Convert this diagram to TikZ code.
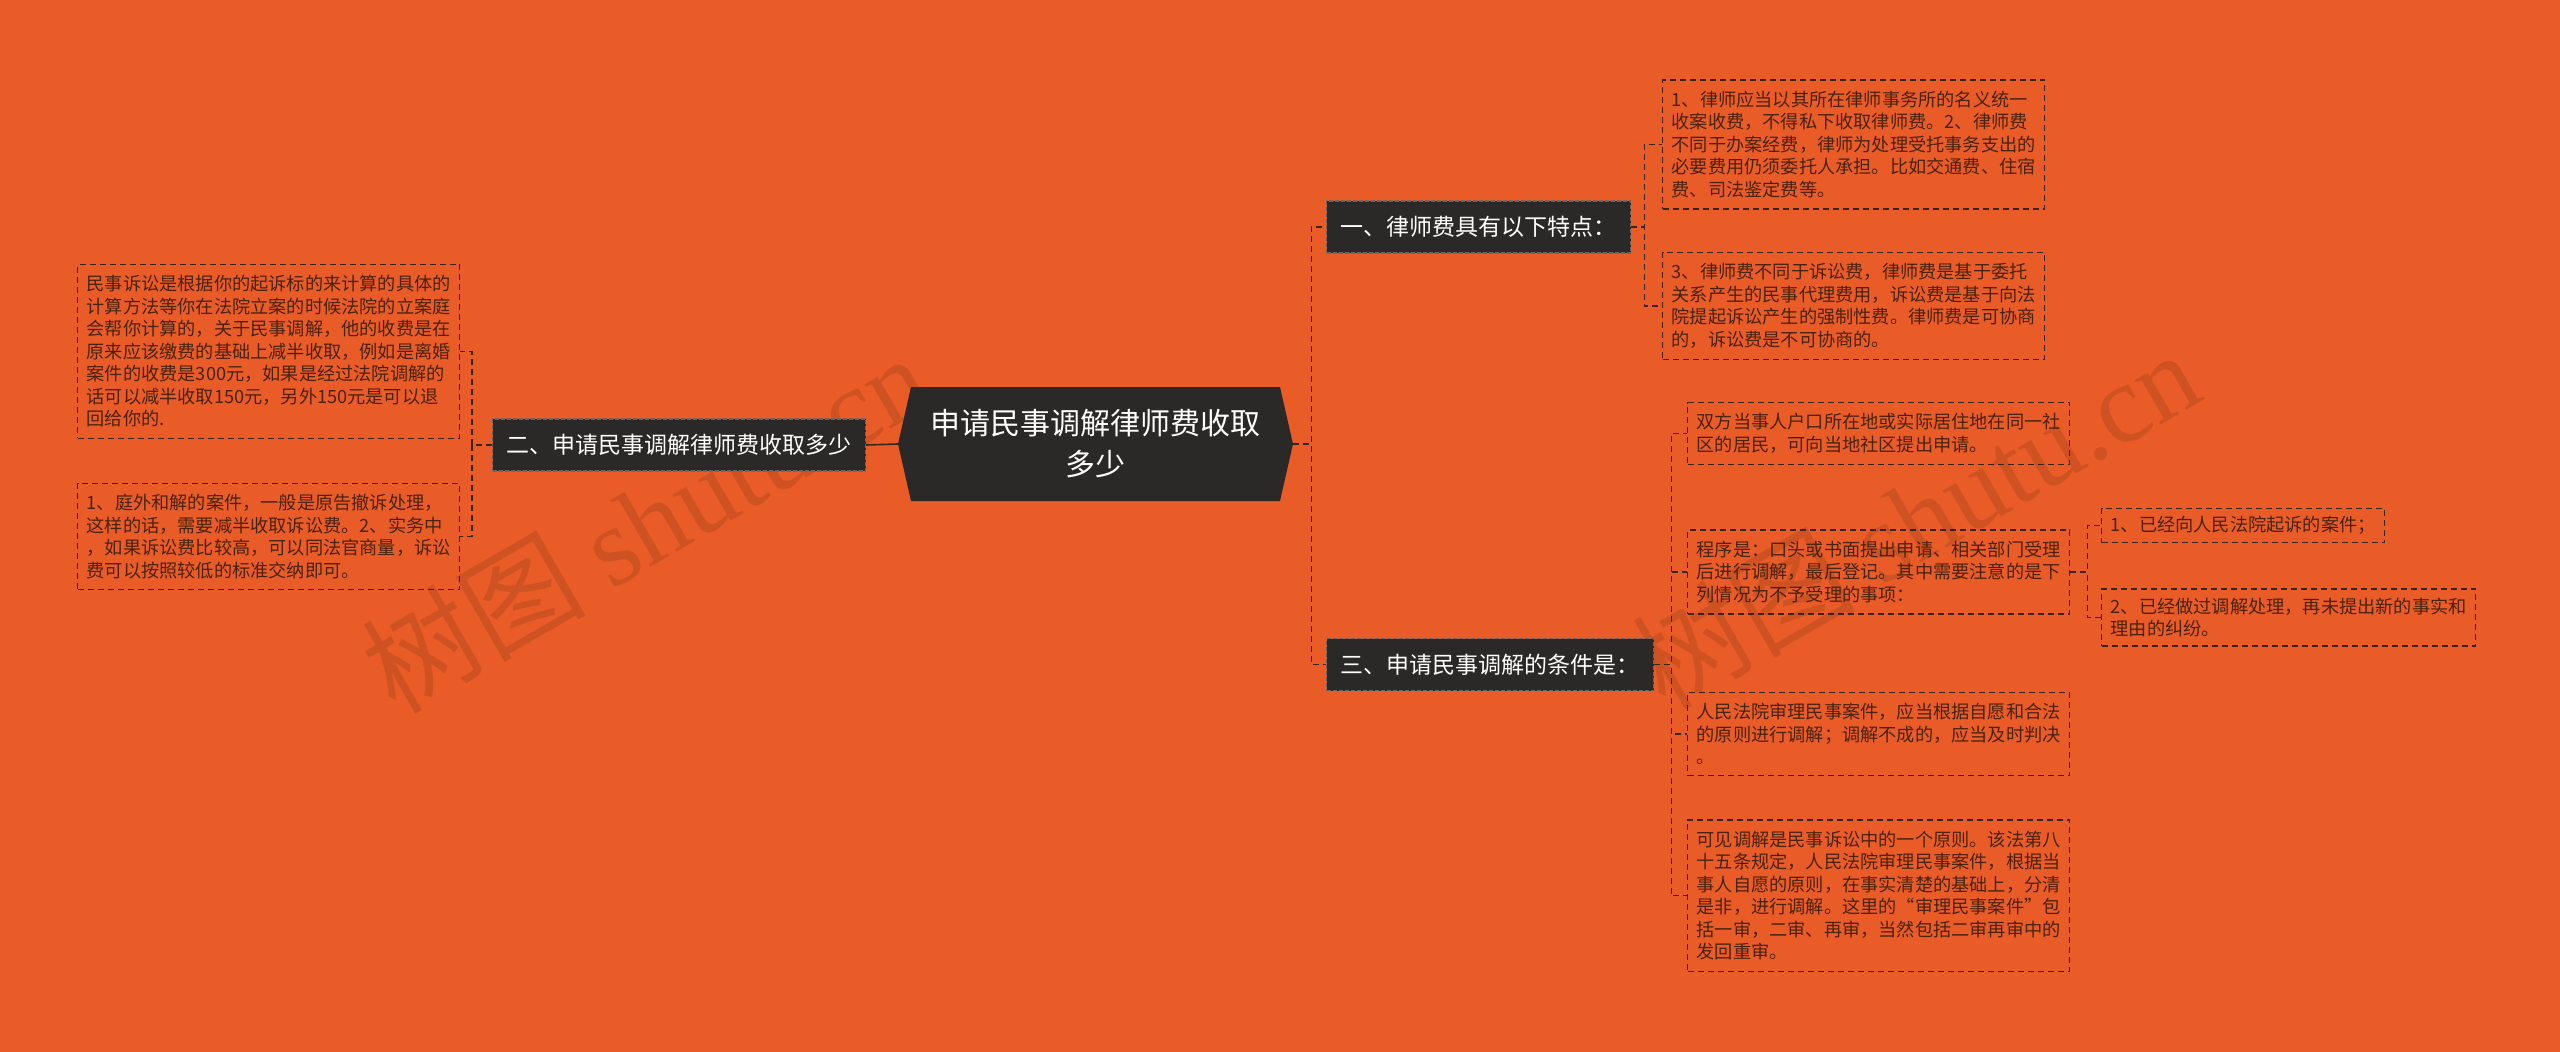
\documentclass[tikz,border=0pt]{standalone}
\usepackage{fontspec}
\setmainfont{Noto Sans CJK SC}
\newfontfamily\wmserif{Liberation Serif}
\definecolor{bg}{HTML}{EA5C27}
\definecolor{darkbox}{HTML}{2B2927}
\definecolor{lncol}{HTML}{3A2418}
\definecolor{leaftext}{HTML}{4A2210}
\definecolor{wm}{HTML}{8A3A1A}
\tikzset{
  conn/.style={draw=lncol, line width=1.4pt, dash pattern=on 6pt off 4pt},
  solidconn/.style={draw=lncol, line width=1.6pt},
  leaf/.style={draw=lncol, line width=1.4pt, dash pattern=on 6pt off 4pt, text=leaftext,
    font=\fontsize{18.2pt}{22.5pt}\selectfont, align=left, inner xsep=9pt, inner ysep=11pt, anchor=west},
  branch/.style={fill=darkbox, draw=black!60, line width=1.2pt, dash pattern=on 4pt off 2pt, text=white,
    font=\fontsize{23pt}{28pt}\selectfont, inner xsep=14pt, minimum height=52pt},
  wmark/.style={text=wm, opacity=0.28, rotate=30}
}
\begin{document}
\begin{tikzpicture}[x=1pt,y=-1pt]
\fill[bg] (0,0) rectangle (2560,1052);
\useasboundingbox (0,0) rectangle (2560,1052);

% watermarks
\node[wmark] (wm1) at (645,522) {\fontsize{112pt}{120pt}\selectfont 树图 {\wmserif shutu.cn}};
\node[wmark] (wm2) at (1915,518) {\fontsize{112pt}{120pt}\selectfont 树图 {\wmserif shutu.cn}};

% central node
\fill[darkbox] (898,444) -- (911,387) -- (1280,387) -- (1293,444) -- (1280,501) -- (911,501) -- cycle;
\node[text=white, font=\fontsize{30pt}{41pt}\selectfont, align=center, minimum width=395pt, minimum height=114pt, inner sep=0pt] (c) at (1095.5,444) {申请民事调解律师费收取\\多少};

% branches
\node[branch] (b2) at (679,445) {二、申请民事调解律师费收取多少};
\node[branch, anchor=west] (b1) at (1326,227) {一、律师费具有以下特点：};
\node[branch, anchor=west] (b3) at (1326,664.5) {三、申请民事调解的条件是：};

% left leaves
\node[leaf] (l1) at (77,351.5) {民事诉讼是根据你的起诉标的来计算的具体的\\
计算方法等你在法院立案的时候法院的立案庭\\
会帮你计算的，关于民事调解，他的收费是在\\
原来应该缴费的基础上减半收取，例如是离婚\\
案件的收费是300元，如果是经过法院调解的\\
话可以减半收取150元，另外150元是可以退\\
回给你的.};
\node[leaf] (l2) at (77,536.5) {1、庭外和解的案件，一般是原告撤诉处理，\\
这样的话，需要减半收取诉讼费。2、实务中\\
，如果诉讼费比较高，可以同法官商量，诉讼\\
费可以按照较低的标准交纳即可。};

% right leaves of b1
\node[leaf] (r1a) at (1662,144.5) {1、律师应当以其所在律师事务所的名义统一\\
收案收费，不得私下收取律师费。2、律师费\\
不同于办案经费，律师为处理受托事务支出的\\
必要费用仍须委托人承担。比如交通费、住宿\\
费、司法鉴定费等。};
\node[leaf] (r1b) at (1662,306) {3、律师费不同于诉讼费，律师费是基于委托\\
关系产生的民事代理费用，诉讼费是基于向法\\
院提起诉讼产生的强制性费。律师费是可协商\\
的，诉讼费是不可协商的。};

% right leaves of b3
\node[leaf] (r3a) at (1687,433.5) {双方当事人户口所在地或实际居住地在同一社\\
区的居民，可向当地社区提出申请。};
\node[leaf] (r3b) at (1687,572) {程序是：口头或书面提出申请、相关部门受理\\
后进行调解，最后登记。其中需要注意的是下\\
列情况为不予受理的事项：};
\node[leaf] (r3c) at (1687,734) {人民法院审理民事案件，应当根据自愿和合法\\
的原则进行调解；调解不成的，应当及时判决\\
。};
\node[leaf] (r3d) at (1687,895.5) {可见调解是民事诉讼中的一个原则。该法第八\\
十五条规定，人民法院审理民事案件，根据当\\
事人自愿的原则，在事实清楚的基础上，分清\\
是非，进行调解。这里的“审理民事案件”包\\
括一审，二审、再审，当然包括二审再审中的\\
发回重审。};

% children of r3b
\node[leaf, inner ysep=8pt] (s1) at (2101,525.5) {1、已经向人民法院起诉的案件；};
\node[leaf, inner ysep=9pt] (s2) at (2101,617.5) {2、已经做过调解处理，再未提出新的事实和\\
理由的纠纷。};

% connectors
\draw[solidconn] (c.west) -- (b2.east);
\draw[conn] (c.east) -- ++(18,0) |- (b1.west);
\draw[conn] (c.east) -- ++(18,0) |- (b3.west);
\draw[conn] (b2.west) -- ++(-20,0) |- (l1.east);
\draw[conn] (b2.west) -- ++(-20,0) |- (l2.east);
\draw[conn] (b1.east) -- ++(13,0) |- (r1a.west);
\draw[conn] (b1.east) -- ++(13,0) |- (r1b.west);
\draw[conn] (b3.east) -- ++(17,0) |- (r3a.west);
\draw[conn] (b3.east) -- ++(17,0) |- (r3b.west);
\draw[conn] (b3.east) -- ++(17,0) |- (r3c.west);
\draw[conn] (b3.east) -- ++(17,0) |- (r3d.west);
\draw[conn] (r3b.east) -- ++(17,0) |- (s1.west);
\draw[conn] (r3b.east) -- ++(17,0) |- (s2.west);
\end{tikzpicture}
\end{document}
